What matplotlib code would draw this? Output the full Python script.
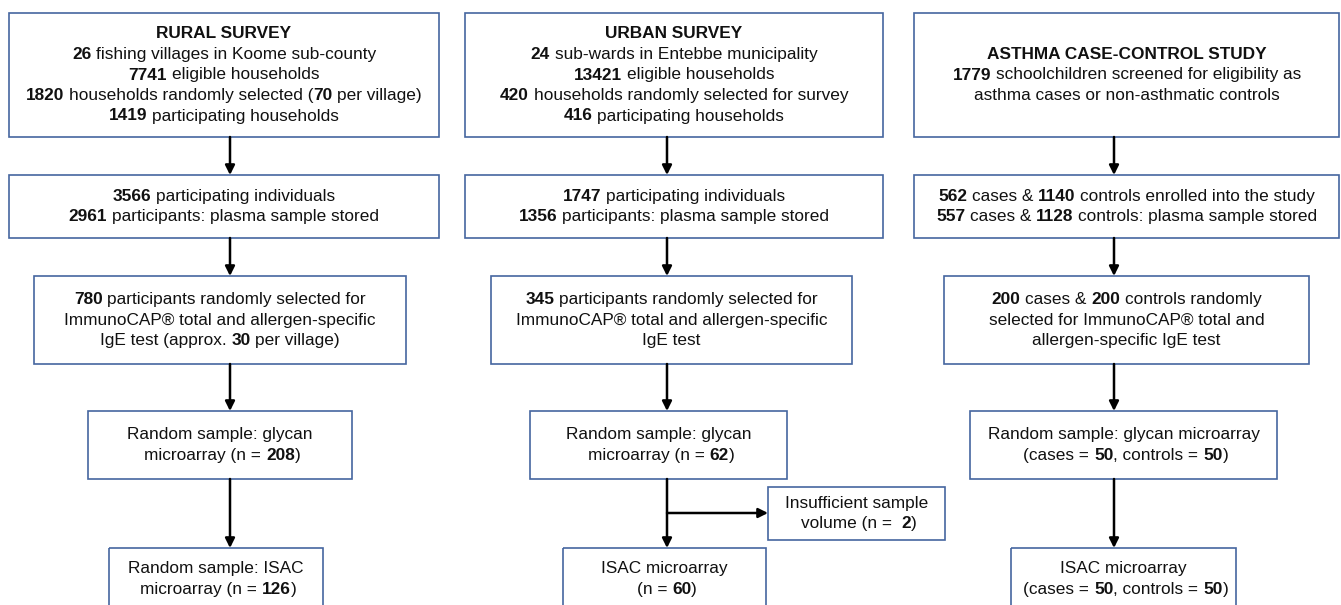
# Flow chart of the three study samples (rural, urban, asthma case-control)
import matplotlib
matplotlib.use('Agg')
import matplotlib.pyplot as plt
from matplotlib.patches import Rectangle

plt.rcParams['font.family'] = ['Liberation Sans', 'DejaVu Sans']

# Box texts, **...** marks the bold numbers
rural_text = [
    "**RURAL SURVEY**\n**26** fishing villages in Koome sub-county\n**7741** eligible households\n"
    "**1820** households randomly selected (**70** per village)\n**1419** participating households",
    "**3566** participating individuals\n**2961** participants: plasma sample stored",
    "**780** participants randomly selected for\nImmunoCAP® total and allergen-specific\n"
    "IgE test (approx. **30** per village)",
    "Random sample: glycan\n microarray (n = **208**)",
    "Random sample: ISAC\n microarray (n = **126**)",
]
urban_text = [
    "**URBAN SURVEY**\n**24** sub-wards in Entebbe municipality\n**13421** eligible households\n"
    "**420** households randomly selected for survey\n**416** participating households",
    "**1747** participating individuals\n**1356** participants: plasma sample stored",
    "**345** participants randomly selected for\nImmunoCAP® total and allergen-specific\nIgE test",
    "Random sample: glycan\n microarray (n = **62**)",
    "ISAC microarray\n (n = **60**)",
]
asthma_text = [
    "**ASTHMA CASE-CONTROL STUDY**\n**1779** schoolchildren screened for eligibility as\n"
    "asthma cases or non-asthmatic controls",
    "**562** cases & **1140** controls enrolled into the study\n"
    "**557** cases & **1128** controls: plasma sample stored",
    "**200** cases & **200** controls randomly\nselected for ImmunoCAP® total and\n"
    "allergen-specific IgE test",
    "Random sample: glycan microarray\n (cases = **50**, controls = **50**)",
    "ISAC microarray\n (cases = **50**, controls = **50**)",
]
excluded_text = "Insufficient sample\n volume (n =  **2**)"

# layout (pixels)
row_y = [(13, 137), (175, 238), (276, 364), (411, 479), (548, 610)]
col_x = [
    [(9, 439), (9, 439), (34, 406), (88, 352), (109, 323)],
    [(465, 883), (465, 883), (491, 852), (530, 787), (563, 766)],
    [(914, 1339.5), (914, 1339.5), (944, 1309), (970, 1277), (1011, 1236)],
]
arrow_x = [230, 667, 1114]
side_box = (768, 945, 487, 540)
branch_y = 513

W, H = 1341, 605
fig = plt.figure(figsize=(W / 100, H / 100), dpi=100)
ax = fig.add_axes([0, 0, 1, 1])
ax.set_xlim(0, W)
ax.set_ylim(H, 0)
ax.axis('off')
renderer = fig.canvas.get_renderer()

FS = 12.4
LH = 20.5
EDGE = '#4566a0'


def text_width(s, bold):
    t = ax.text(0, 0, s, fontsize=FS, fontweight='bold' if bold else 'normal')
    w = t.get_window_extent(renderer).width
    t.remove()
    return w


SPACE = text_width('a a', False) - text_width('aa', False)


def draw_text(cx, cy, text):
    lines = text.split('\n')
    n = len(lines)
    for i, line in enumerate(lines):
        y = cy + (i - (n - 1) / 2) * LH
        pieces = []
        total = 0
        for j, p in enumerate(line.split('**')):
            if not p:
                continue
            bold = j % 2 == 1
            lead = len(p) - len(p.lstrip(' '))
            trail = len(p) - len(p.rstrip(' '))
            core = p.strip(' ')
            w = text_width(core, bold) if core else 0
            pieces.append((core, bold, lead * SPACE, w, trail * SPACE))
            total += lead * SPACE + w + trail * SPACE
        x = cx - total / 2
        for core, bold, lsp, w, tsp in pieces:
            x += lsp
            if core:
                ax.text(x, y, core, fontsize=FS, fontweight='bold' if bold else 'normal',
                        ha='left', va='center', color='#111111')
            x += w + tsp


def draw_box(x0, x1, y0, y1, text):
    ax.add_patch(Rectangle((x0, y0), x1 - x0, y1 - y0, fill=False,
                           edgecolor=EDGE, linewidth=1.2))
    draw_text((x0 + x1) / 2, (y0 + y1) / 2, text)


def arrow(x0, y0, x1, y1):
    ax.annotate('', xy=(x1, y1), xytext=(x0, y0),
                arrowprops=dict(arrowstyle='-|>', color='black', lw=1.8,
                                mutation_scale=14, shrinkA=0, shrinkB=0))


for c, texts in enumerate([rural_text, urban_text, asthma_text]):
    for r, txt in enumerate(texts):
        x0, x1 = col_x[c][r]
        y0, y1 = row_y[r]
        draw_box(x0, x1, y0, y1, txt)
        if r > 0:
            arrow(arrow_x[c], row_y[r - 1][1], arrow_x[c], y0)

# excluded samples branch in the urban column
sx0, sx1, sy0, sy1 = side_box
draw_box(sx0, sx1, sy0, sy1, excluded_text)
arrow(arrow_x[1], branch_y, sx0, branch_y)

fig.savefig('out.png', dpi=100)
